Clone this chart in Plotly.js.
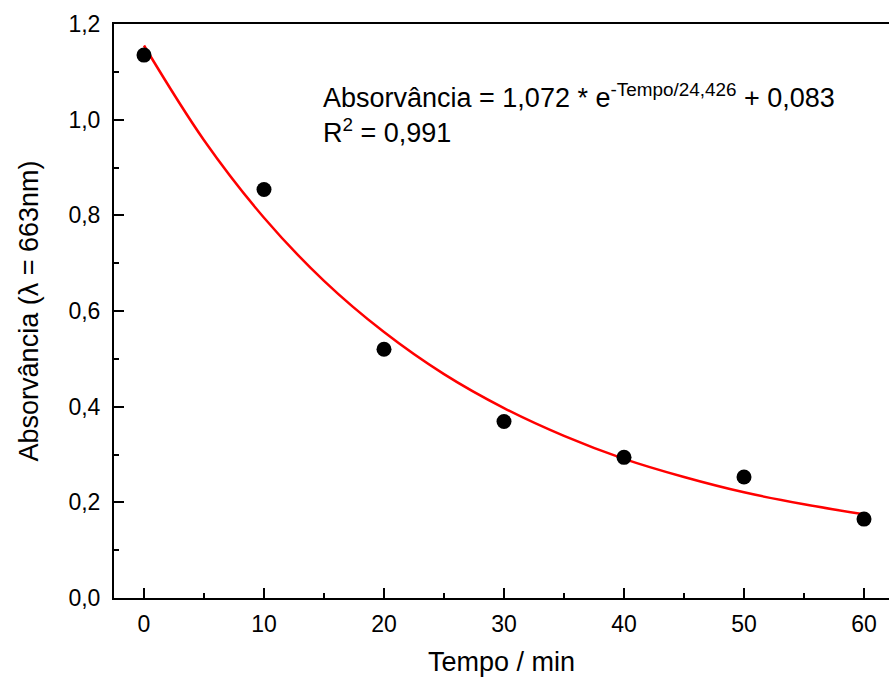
<!DOCTYPE html>
<html>
<head>
<meta charset="utf-8">
<script src="https://cdn.plot.ly/plotly-3.0.1.min.js"></script>
<style>
html,body{margin:0;padding:0;overflow:hidden;background:#fff;}
#chart{width:889px;height:677px;}
</style>
</head>
<body>
<div id="chart"></div>
<script>
// Measured points
const tempo = [0, 10, 20, 30, 40, 50, 60];
const absorvancia = [1.135, 0.854, 0.520, 0.369, 0.294, 0.253, 0.165];

// Fitted curve
const fitTempo = [0, 5, 10, 15, 20, 25, 30, 35, 40, 45, 50, 55, 60];
const fitAbs = [1.155, 0.957, 0.795, 0.663, 0.556, 0.468, 0.397, 0.339, 0.291, 0.253, 0.221, 0.196, 0.175];

const xTicks = [0, 10, 20, 30, 40, 50, 60];
const yTicks = [0, 0.2, 0.4, 0.6, 0.8, 1.0, 1.2];

const fontFam = 'Arial, "Liberation Sans", sans-serif';

const traces = [
  {
    x: fitTempo, y: fitAbs, type: 'scatter', mode: 'lines',
    line: {color: '#ff0000', width: 2.5, shape: 'spline'},
    hoverinfo: 'skip', showlegend: false
  },
  {
    x: tempo, y: absorvancia, type: 'scatter', mode: 'markers',
    marker: {color: '#000000', size: 15},
    showlegend: false
  }
];

const layout = {
  width: 889, height: 677,
  margin: {l: 114, r: 0, t: 24, b: 79},
  separators: ',.',
  paper_bgcolor: '#ffffff', plot_bgcolor: '#ffffff',
  font: {family: fontFam, color: '#000000', size: 23},
  xaxis: {
    range: [-2.5, 62.083],
    tickvals: xTicks, ticktext: xTicks.map(String),
    ticks: 'inside', ticklen: 10, tickwidth: 2, tickcolor: '#000',
    minor: {dtick: 5, tick0: 0, ticks: 'inside', ticklen: 5, tickwidth: 2, tickcolor: '#000'},
    showline: true, linecolor: '#000', linewidth: 2, mirror: true,
    showgrid: false, zeroline: false,
    tickfont: {size: 23}, ticklabelstandoff: 4,
    title: {text: 'Tempo / min', font: {size: 27}, standoff: 17}
  },
  yaxis: {
    range: [0, 1.2],
    tickvals: yTicks, tickformat: '.1f',
    ticks: 'inside', ticklen: 10, tickwidth: 2, tickcolor: '#000',
    minor: {dtick: 0.1, tick0: 0, ticks: 'inside', ticklen: 5, tickwidth: 2, tickcolor: '#000'},
    showline: true, linecolor: '#000', linewidth: 2, mirror: false,
    showgrid: false, zeroline: false,
    tickfont: {size: 23}, ticklabelstandoff: 7,
    title: {text: 'Absorvância (λ = 663nm)', font: {size: 27}, standoff: 22}
  },
  annotations: [
    {
      xref: 'paper', yref: 'paper', x: (321 - 114) / 775, y: 1 - (77 - 24) / 574,
      xanchor: 'left', yanchor: 'top', align: 'left', showarrow: false,
      text: 'Absorvância = 1,072 * e<sup>-Tempo/24,426</sup> + 0,083<br>R<sup>2</sup> = 0,991',
      font: {size: 27, color: '#000'}
    }
  ]
};

Plotly.newPlot('chart', traces, layout, {displayModeBar: false, staticPlot: true});
</script>
</body>
</html>
